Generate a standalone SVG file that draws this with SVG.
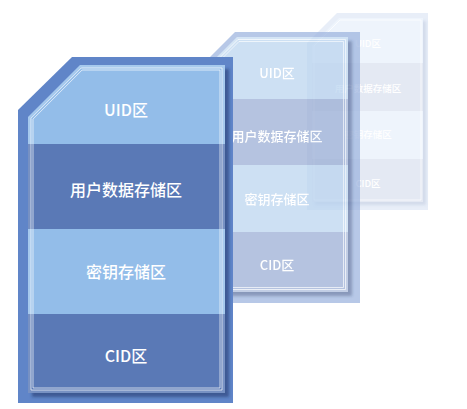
<svg xmlns="http://www.w3.org/2000/svg" width="467" height="409" viewBox="0 0 467 409">
<style>
text { font-family: "Noto Sans CJK SC", "Noto Sans", sans-serif; fill: #ffffff; text-anchor: middle; dominant-baseline: central; font-weight: 500; }
.f { font-size: 16px; }
.m { font-size: 13px; }
.b { font-size: 9.5px; }
.ln { fill: none; stroke: #ffffff; stroke-width: 0.8; stroke-opacity: 0.85; }
.edge { fill: none; stroke: #ffffff; stroke-opacity: 0.18; stroke-width: 6; }
</style>
<defs>
<filter id="sh" x="-10%" y="-10%" width="130%" height="130%">
<feGaussianBlur in="SourceAlpha" stdDeviation="1.5"/>
<feOffset dx="3.5" dy="3.5" result="o"/>
<feFlood flood-color="#1f3468" flood-opacity="0.55"/>
<feComposite in2="o" operator="in"/>
<feMerge><feMergeNode/><feMergeNode in="SourceGraphic"/></feMerge>
</filter>
<filter id="shl" x="-10%" y="-10%" width="130%" height="130%">
<feGaussianBlur in="SourceAlpha" stdDeviation="1.5"/>
<feOffset dx="3" dy="3" result="o"/>
<feFlood flood-color="#5a70a0" flood-opacity="0.15"/>
<feComposite in2="o" operator="in"/>
<feMerge><feMergeNode/><feMergeNode in="SourceGraphic"/></feMerge>
</filter>
<clipPath id="cb"><polygon points="312,45 339,18 423,18 423,202 312,202"/></clipPath>
<clipPath id="cm"><polygon points="206,68 237,37 348,37 348,292 206,292"/></clipPath>
<clipPath id="cf"><polygon points="28,117 80,65 225,65 225,393 28,393"/></clipPath>
</defs>

<g id="card-back">
<polygon points="307,43 337,13 428,13 428,210 307,210" fill="#e8eef8"/>
<g filter="url(#shl)">
<g clip-path="url(#cb)">
<rect x="312" y="18" width="111" height="45" fill="#eef4fc"/>
<rect x="312" y="63" width="111" height="48" fill="#e4e9f3"/>
<rect x="312" y="111" width="111" height="48" fill="#eef4fc"/>
<rect x="312" y="159" width="111" height="43" fill="#e4e9f3"/>
</g>
</g>
<polygon class="ln" points="314,46 340,20 421,20 421,200 314,200" stroke-opacity="0.6"/>
<text class="b" x="368" y="43">UID区</text>
<text class="b" x="368" y="88">用户数据存储区</text>
<text class="b" x="368" y="134">密钥存储区</text>
<text class="b" x="368" y="183">CID区</text>
</g>

<g id="card-middle" opacity="0.7">
<polygon points="200,67 235,32 360,32 360,303 200,303" fill="#9ab2de"/>
<g filter="url(#sh)">
<g clip-path="url(#cm)">
<rect x="206" y="37" width="142" height="62" fill="#b8d3ef"/>
<rect x="206" y="99" width="142" height="66" fill="#97abd3"/>
<rect x="206" y="165" width="142" height="67" fill="#b8d3ef"/>
<rect x="206" y="232" width="142" height="60" fill="#97abd3"/>
<polygon class="edge" points="206,68 237,37 348,37 348,292 206,292"/>
</g>
</g>
<polygon class="ln" points="208.5,69 238,39.5 345.5,39.5 345.5,289.5 208.5,289.5"/>
<polygon class="ln" points="210.5,70 239,41.5 343.5,41.5 343.5,287.5 210.5,287.5"/>
<text class="m" x="277" y="72">UID区</text>
<text class="m" x="277" y="135">用户数据存储区</text>
<text class="m" x="277" y="198">密钥存储区</text>
<text class="m" x="277" y="264">CID区</text>
</g>

<g id="card-front">
<polygon points="18,110 72,57 233,57 233,403 18,403" fill="#6085c8"/>
<g filter="url(#sh)">
<g clip-path="url(#cf)">
<rect x="28" y="65" width="197" height="79" fill="#93bde9"/>
<rect x="28" y="144" width="197" height="85" fill="#5a79b6"/>
<rect x="28" y="229" width="197" height="85" fill="#93bde9"/>
<rect x="28" y="314" width="197" height="79" fill="#5a79b6"/>
<polygon class="edge" points="28,117 80,65 225,65 225,393 28,393"/>
</g>
</g>
<polygon class="ln" points="31,118.2 81.2,68 222,68 222,390 31,390"/>
<polygon class="ln" points="33,119.1 82.1,70 220,70 220,388 33,388"/>
<text class="f" x="126" y="109">UID区</text>
<text class="f" x="126" y="189">用户数据存储区</text>
<text class="f" x="126" y="271">密钥存储区</text>
<text class="f" x="126" y="355">CID区</text>
</g>

<g id="connectors"></g>
</svg>
